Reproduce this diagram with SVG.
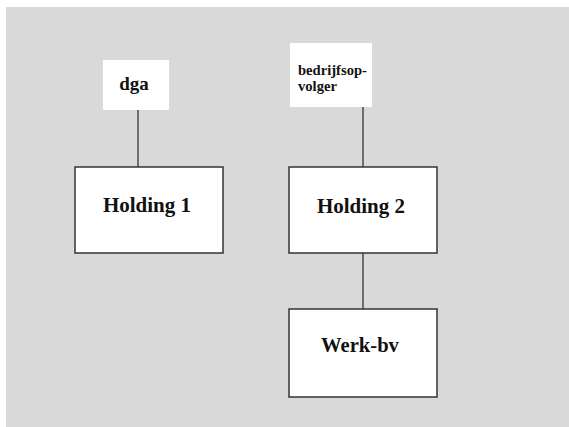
<svg xmlns="http://www.w3.org/2000/svg" width="569" height="427" viewBox="0 0 569 427">
<style>
.box{fill:#fff;stroke:#333;stroke-width:1.5}
.lbl{fill:#fff;stroke:none}
.t{font-family:"Liberation Serif","Times New Roman",serif;font-weight:bold;fill:#111}
.c{stroke:#333;stroke-width:1.3;fill:none}
</style>
<rect x="0" y="0" width="569" height="427" fill="#fff"/>
<rect x="6" y="7" width="563" height="420" fill="#d9d9d9"/>
<g id="connectors">
<line class="c" x1="138" y1="110" x2="138" y2="167"/>
<line class="c" x1="363" y1="107" x2="363" y2="167"/>
<line class="c" x1="363" y1="253" x2="363" y2="309"/>
</g>
<g id="dga">
<rect class="lbl" x="103" y="60" width="66" height="50"/>
<text class="t" x="134" y="90" font-size="19" text-anchor="middle">dga</text>
</g>
<g id="bedrijfsopvolger">
<rect class="lbl" x="290" y="43" width="82" height="64"/>
<text class="t" x="298" y="75" font-size="14.6">bedrijfsop-</text>
<text class="t" x="298" y="91" font-size="14.6">volger</text>
</g>
<g id="holding1">
<rect class="box" x="75" y="167" width="148" height="86"/>
<text class="t" x="147" y="212" font-size="21" text-anchor="middle">Holding 1</text>
</g>
<g id="holding2">
<rect class="box" x="289" y="167" width="148" height="86"/>
<text class="t" x="361" y="213" font-size="21" text-anchor="middle">Holding 2</text>
</g>
<g id="werkbv">
<rect class="box" x="289" y="309" width="148" height="88"/>
<text class="t" x="360" y="352" font-size="20.6" text-anchor="middle">Werk-bv</text>
</g>
</svg>
